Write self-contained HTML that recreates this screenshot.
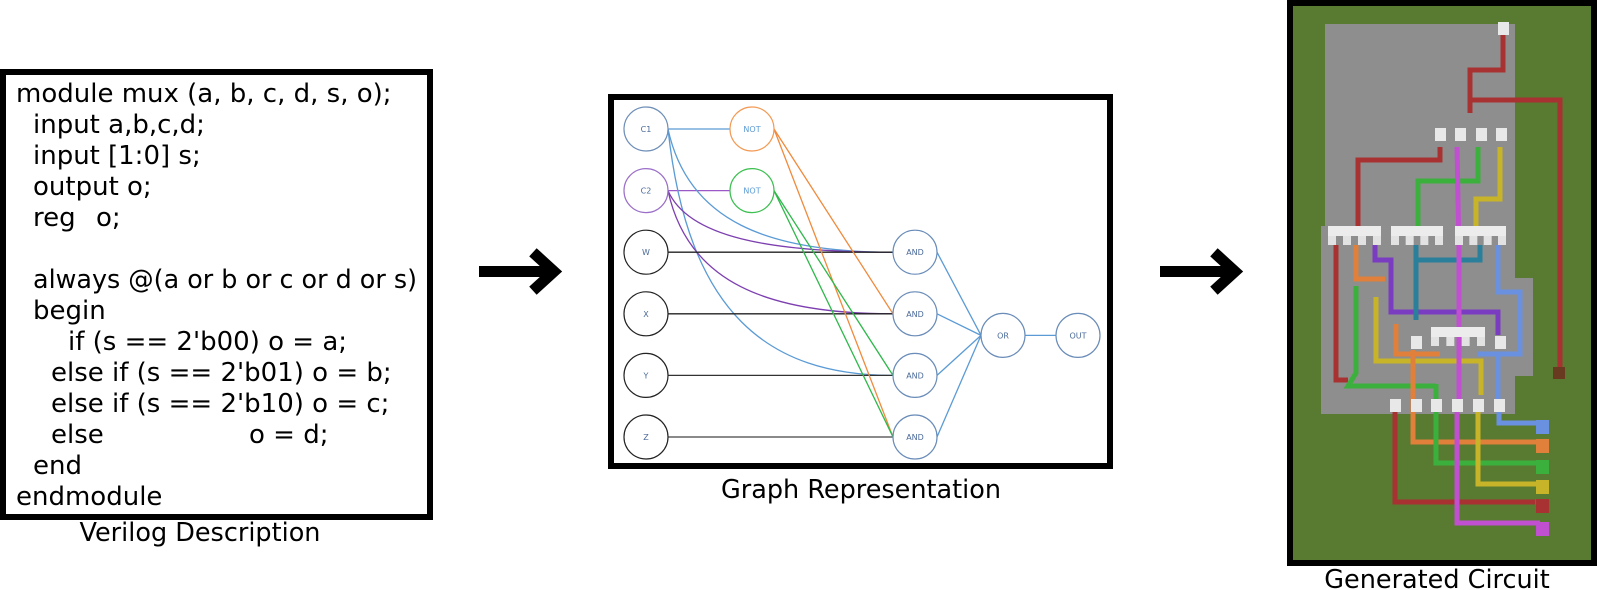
<!DOCTYPE html>
<html><head><meta charset="utf-8">
<style>
html,body{margin:0;padding:0;background:#fff;}
#root{position:relative;width:1602px;height:590px;overflow:hidden;font-family:"DejaVu Sans","Liberation Sans",sans-serif;}
svg{position:absolute;left:0;top:0;}
</style></head>
<body>
<div id="root">
<svg id="svg" width="1602" height="590" viewBox="0 0 1602 590">
  <g>
    <rect x="3" y="72" width="427" height="445" fill="#fff" stroke="#000" stroke-width="6"/>
    <g font-size="26" fill="#000">
      <text x="16" y="102">module mux (a, b, c, d, s, o);</text>
      <text x="33" y="133">input a,b,c,d;</text>
      <text x="33" y="164">input</text>
      <text x="108" y="164">[1:0] s;</text>
      <text x="33" y="195">output o;</text>
      <text x="33" y="226">reg</text>
      <text x="96" y="226">o;</text>
      <text x="33" y="288" textLength="384" lengthAdjust="spacingAndGlyphs">always @(a or b or c or d or s)</text>
      <text x="33" y="319">begin</text>
      <text x="68" y="350">if (s == 2'b00) o = a;</text>
      <text x="51" y="381">else if (s == 2'b01) o = b;</text>
      <text x="51" y="412">else if (s == 2'b10) o = c;</text>
      <text x="51" y="443">else</text>
      <text x="249" y="443">o = d;</text>
      <text x="33" y="474">end</text>
      <text x="16" y="505">endmodule</text>
    </g>
    <text x="200" y="541" font-size="25.5" text-anchor="middle">Verilog Description</text>
  </g>

  <g>
    <rect x="479" y="266" width="72" height="11" fill="#000"/>
    <polyline points="537,256 554,271.5 537,287" fill="none" stroke="#000" stroke-width="11" stroke-linejoin="miter" stroke-linecap="square"/>
  </g>
  <g>
    <rect x="1160" y="266" width="72" height="11" fill="#000"/>
    <polyline points="1218,256 1235,271.5 1218,287" fill="none" stroke="#000" stroke-width="11" stroke-linejoin="miter" stroke-linecap="square"/>
  </g>

  <g>
    <rect x="611" y="97" width="499" height="369" fill="#fff" stroke="#000" stroke-width="6"/>
    <g id="edges"></g>
    <g id="nodes"></g>
    <text x="861" y="498" font-size="25.5" text-anchor="middle">Graph Representation</text>
  </g>

  <g>
    <rect x="1290" y="3" width="304" height="560" fill="#587a31" stroke="#000" stroke-width="6"/>
    <g fill="#8e8e8e">
      <rect x="1325" y="24" width="190" height="390"/>
      <rect x="1515" y="278" width="18" height="98"/>
      <rect x="1321" y="226" width="6" height="188"/>
    </g>
    <g id="wires" fill="none" stroke-width="5" stroke-linejoin="miter"></g>
    <g id="blocks"></g>
    <rect x="1553" y="367" width="12" height="12" fill="#6a3a20"/>
    <text x="1437" y="588" font-size="25.5" text-anchor="middle">Generated Circuit</text>
  </g>
</svg>
</div>
<script>
const nodeIds = ['C1','C2','W','X','Y','Z','N1','N2','A1','A2','A3','A4','OR','OUT'];
const nodeLabels = ['C1','C2','W','X','Y','Z','NOT','NOT','AND','AND','AND','AND','OR','OUT'];
const nodeCol = [0,0,0,0,0,0,1,1,2,2,2,2,3,4];
const nodeRow = [0,1,2,3,4,5,0,1,2,3,4,5,3.35,3.35];
const nodeColors = ['#6f8fb8','#9b6fc8','#222','#222','#222','#222','#f39a55','#3cc050','#6a8cb8','#6a8cb8','#6a8cb8','#6a8cb8','#6a8cb8','#6a8cb8'];
const edgeFrom = ['C1','C2','C1','C1','C2','C2','W','X','Y','Z','N1','N1','N2','N2','A1','A2','A3','A4','OR'];
const edgeTo =   ['N1','N2','A1','A3','A1','A2','A1','A2','A3','A4','A2','A4','A3','A4','OR','OR','OR','OR','OUT'];
const edgeColors = ['#5b9bd5','#9b59c8','#5b9bd5','#5b9bd5','#7d3fb0','#7d3fb0','#222','#222','#333','#444','#f08a3c','#f08a3c','#2eb84a','#2eb84a','#5b9bd5','#5b9bd5','#5b9bd5','#5b9bd5','#5b9bd5'];
const edgeCurved = [0,0,1,1,1,1,0,0,0,0,0,0,0,0,0,0,0,0,0];

const colX = c => [646,752,915,1003,1078][c];
const rowY = r => 129 + r*61.6;
const R = 22;
const NS = 'http://www.w3.org/2000/svg';
const nodesG = document.getElementById('nodes');
const edgesG = document.getElementById('edges');
function pos(id){const i=nodeIds.indexOf(id);return [colX(nodeCol[i]),rowY(nodeRow[i])];}

for (let k=0;k<edgeFrom.length;k++){
  const [x1,y1]=pos(edgeFrom[k]); const [x2,y2]=pos(edgeTo[k]);
  const p=document.createElementNS(NS,'path');
  const sx=x1+R, ex=x2-R;
  let d;
  if(edgeCurved[k]){
    const dy=y2-y1;
    d=`M${sx},${y1} C${sx+20},${y1+dy*0.75} ${sx+100},${y2} ${ex},${y2}`;
  } else d=`M${sx},${y1} L${ex},${y2}`;
  p.setAttribute('d',d);
  p.setAttribute('fill','none');
  p.setAttribute('stroke',edgeColors[k]);
  p.setAttribute('stroke-width','1.3');
  
  
  edgesG.appendChild(p);
}
for (let i=0;i<nodeIds.length;i++){
  const [x,y]=pos(nodeIds[i]);
  const c=document.createElementNS(NS,'circle');
  c.setAttribute('cx',x);c.setAttribute('cy',y);c.setAttribute('r',R);
  c.setAttribute('fill','#fff');c.setAttribute('stroke',nodeColors[i]);c.setAttribute('stroke-width','1.2');
  
  
  nodesG.appendChild(c);
  const t=document.createElementNS(NS,'text');
  t.setAttribute('x',x);t.setAttribute('y',y+3);t.setAttribute('font-size','8');
  t.setAttribute('text-anchor','middle');t.setAttribute('fill',(nodeIds[i]==='N1'||nodeIds[i]==='N2')?'#5b9bd5':'#4a6a98');
  t.textContent=nodeLabels[i];
  
  
  nodesG.appendChild(t);
}

const wireColors = ['#a83232','#a83232','#a83232','#a83232','#a83232','#3cb03c','#c8b428','#7a3cc0','#2a7f9a','#2a7f9a','#e0803a','#e0803a','#6a90e0','#6a90e0','#c8b428','#3cb03c','#c050d0','#6a90e0','#e0803a','#3cb03c','#c8b428','#c050d0'];
const wirePts = [
 '1503,34 1503,70 1470,70 1470,113','1470,100 1560,100 1560,371','1440,147 1440,160 1358,160 1358,226',
 '1336,245 1336,380 1348,380','1395,410 1395,502 1535,502',
 '1478,147 1478,181 1418,181 1418,226','1500,147 1500,199 1476,199 1476,226',
 '1375,245 1375,260 1391,260 1391,312 1498,312 1498,335','1416,245 1416,320','1416,260 1480,260 1480,245',
 '1356,245 1356,279 1385,279','1396,324 1396,354 1440,354','1498,245 1498,292 1520,292 1520,354 1478,354','1498,354 1498,400',
 '1376,297 1376,361 1481,361 1481,395','1356,286 1356,373 1348,386 1436,386',
 '1457,147 1459,250 1459,405','1499,410 1499,423 1540,423','1413,350 1413,442 1540,442','1436,384 1436,463 1540,463','1478,406 1478,484 1540,484','1457,405 1457,523 1540,523'
];
const wiresG=document.getElementById('wires');
for(let k=0;k<wirePts.length;k++){
  const pl=document.createElementNS(NS,'polyline');
  pl.setAttribute('points',wirePts[k]);
  pl.setAttribute('stroke',wireColors[k]);
  
  
  wiresG.appendChild(pl);
}
const blockX = [1503,1440,1460,1481,1501,1416,1500,1395,1416,1436,1457,1478,1499];
const blockY = [28,134,134,134,134,342,342,405,405,405,405,405,405];
const outColors = ['#6a90e0','#e0803a','#3cb03c','#c8b428','#a83232','#c050d0'];
const outY = [427,446,467,487,506,529];
const repX = [1328,1391,1455,1431];
const repY = [226,226,226,327];
const repW = [53,52,51,54];
const blocksG=document.getElementById('blocks');
function addRect(x,y,w,h,fill,name){
  const r=document.createElementNS(NS,'rect');
  r.setAttribute('x',x);r.setAttribute('y',y);r.setAttribute('width',w);r.setAttribute('height',h);r.setAttribute('fill',fill);
  
  
  blocksG.appendChild(r);
}
for(let i=0;i<blockX.length;i++) addRect(blockX[i]-5,blockY[i]-6,11,13,'#e8e8e8','block-'+i);
for(let i=0;i<repX.length;i++){
  addRect(repX[i],repY[i],repW[i],10,'#ececec','repeater-bar-'+i);
  for(let j=0;j<4;j++) addRect(repX[i]+j*(repW[i]-8)/3,repY[i]+10,8,9,'#e2e2e2','repeater-leg-'+i+'-'+j);
}
for(let i=0;i<outColors.length;i++) addRect(1536,outY[i]-7,13,14,outColors[i],'output-block-'+i);
</script>
</body></html>
